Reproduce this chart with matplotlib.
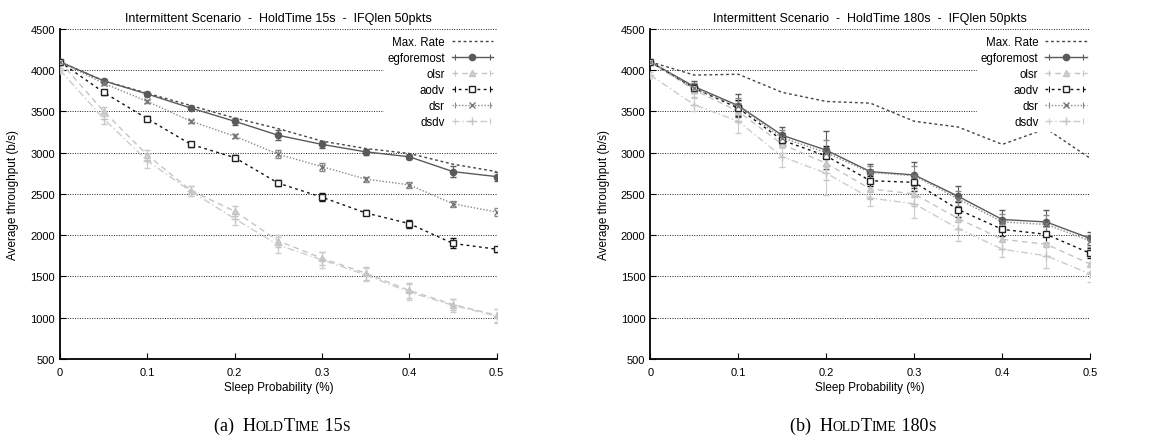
import matplotlib
matplotlib.use("Agg")
import matplotlib.pyplot as plt
from matplotlib.lines import Line2D
from matplotlib.legend_handler import HandlerLine2D, HandlerTuple

plt.rcParams['font.family'] = 'Liberation Sans'

sleep_prob = [0, 0.05, 0.1, 0.15, 0.2, 0.25, 0.3, 0.35, 0.4, 0.45, 0.5]
series_names = ["Max. Rate", "egforemost", "olsr", "aodv", "dsr", "dsdv"]

# HoldTime 15s
max_rate_15 = [4100, 3870, 3720, 3570, 3420, 3290, 3140, 3050, 2990, 2860, 2770]
egforemost_15 = [4100, 3870, 3710, 3540, 3380, 3210, 3100, 3010, 2950, 2770, 2710]
olsr_15 = [4100, 3500, 2970, 2540, 2290, 1930, 1720, 1540, 1330, 1160, 1030]
aodv_15 = [4100, 3730, 3410, 3100, 2940, 2630, 2460, 2270, 2140, 1900, 1830]
dsr_15 = [4100, 3840, 3620, 3380, 3200, 2980, 2830, 2680, 2610, 2380, 2280]
dsdv_15 = [4000, 3410, 2900, 2530, 2200, 1880, 1700, 1520, 1310, 1150, 1020]
egforemost_15_err = [20, 20, 20, 20, 40, 60, 40, 40, 30, 70, 50]
olsr_15_err = [30, 50, 60, 60, 60, 70, 80, 80, 90, 70, 80]
aodv_15_err = [20, 30, 30, 30, 30, 40, 50, 30, 50, 60, 30]
dsr_15_err = [20, 20, 20, 20, 20, 50, 50, 30, 40, 40, 50]
dsdv_15_err = [30, 60, 80, 60, 80, 100, 100, 80, 100, 80, 80]

# HoldTime 180s
max_rate_180 = [4100, 3940, 3950, 3730, 3620, 3600, 3380, 3310, 3100, 3290, 2930]
egforemost_180 = [4100, 3800, 3570, 3210, 3030, 2770, 2730, 2470, 2190, 2160, 1960]
olsr_180 = [4100, 3760, 3500, 3100, 2870, 2560, 2500, 2200, 1950, 1890, 1650]
aodv_180 = [4100, 3780, 3540, 3150, 2960, 2660, 2640, 2310, 2070, 2010, 1780]
dsr_180 = [4100, 3780, 3560, 3180, 3000, 2760, 2720, 2440, 2160, 2130, 1930]
dsdv_180 = [3940, 3580, 3380, 2950, 2750, 2450, 2380, 2080, 1830, 1750, 1530]
egforemost_180_err = [20, 70, 140, 100, 230, 90, 160, 120, 120, 150, 80]
olsr_180_err = [30, 80, 130, 110, 200, 120, 150, 130, 120, 140, 100]
aodv_180_err = [20, 50, 100, 80, 120, 60, 100, 90, 80, 100, 60]
dsr_180_err = [20, 60, 100, 90, 150, 80, 120, 100, 100, 120, 70]
dsdv_180_err = [40, 80, 140, 120, 260, 100, 170, 150, 100, 150, 100]

y_ticks = [500, 1000, 1500, 2000, 2500, 3000, 3500, 4000, 4500]
x_ticks = [0, 0.1, 0.2, 0.3, 0.4, 0.5]
x_tick_labels = ["0", "0.1", "0.2", "0.3", "0.4", "0.5"]

styles = {
    "egforemost": dict(color="#5a5a5a", ls="-", marker="o", ms=4.5, mfc="#5a5a5a", mec="#5a5a5a"),
    "olsr": dict(color="#c4c4c4", ls=(0, (4, 3)), marker="^", ms=4.5, mfc="#d0d0d0", mec="#c4c4c4"),
    "aodv": dict(color="#111111", ls=(0, (2, 2.5)), marker="s", ms=5, mfc="white", mec="#222222"),
    "dsr": dict(color="#8a8a8a", ls=(0, (1, 1.3)), marker="x", ms=5, mfc="none", mec="#777777"),
    "dsdv": dict(color="#cccccc", ls=(0, (5, 2, 1, 2)), marker="+", ms=6, mfc="none", mec="#c4c4c4"),
}


def paint_plot(ax, title, max_rate, data, errs):
    ax.plot(sleep_prob, max_rate, color="#444444", ls=(0, (2, 2)), lw=1.0, zorder=3)
    handles = [Line2D([], [], color="#444444", ls=(0, (2, 2)), lw=1.0)]
    hmap = {}
    for name in series_names[1:]:
        st = styles[name]
        ax.errorbar(sleep_prob, data[name], yerr=errs[name], color=st["color"],
                    ls=st["ls"], lw=1.0, marker=st["marker"], ms=st["ms"],
                    mfc=st["mfc"], mec=st["mec"], mew=1.0, elinewidth=0.8,
                    ecolor=st["color"], capsize=2.5, zorder=3)
        # legend sample drawn the gnuplot way: |---o---|
        line = Line2D([], [], color=st["color"], ls=st["ls"], lw=1.0, marker=st["marker"],
                      ms=st["ms"], mfc=st["mfc"], mec=st["mec"], mew=1.0)
        caps = Line2D([], [], color=st["color"], ls="none", marker="|", ms=5, mew=0.8)
        hmap[caps] = HandlerLine2D(numpoints=2)
        handles.append((line, caps))
    ax.set_xlim(0, 0.5)
    ax.set_ylim(500, 4500)
    ax.set_yticks(y_ticks)
    ax.set_xticks(x_ticks)
    ax.set_xticklabels(x_tick_labels)
    ax.tick_params(direction="in", labelsize=8, length=4, width=0.8)
    ax.tick_params(axis="x", pad=6)
    ax.yaxis.grid(True, color="#222222", ls=(0, (1, 1.5)), lw=0.7)
    ax.set_axisbelow(True)
    for side in ["top", "right"]:
        ax.spines[side].set_visible(False)
    for side in ["left", "bottom"]:
        ax.spines[side].set_linewidth(1.3)
    ax.set_title(title, fontsize=9, pad=6)
    ax.set_xlabel("Sleep Probability (%)", fontsize=8.5, labelpad=3)
    ax.set_ylabel("Average throughput (b/s)", fontsize=8.5, labelpad=8)
    hmap[tuple] = HandlerTuple(ndivide=1, pad=0)
    leg = ax.legend(handles, series_names, handler_map=hmap, loc="upper right",
                    bbox_to_anchor=(1.0, 0.99), fontsize=8.3,
                    markerfirst=False, frameon=True, handlelength=3.6,
                    labelspacing=0.35, borderpad=0.3, handletextpad=0.6,
                    borderaxespad=0.0)
    leg.get_frame().set_facecolor("white")
    leg.get_frame().set_edgecolor("white")
    leg.get_frame().set_alpha(1.0)


def small_caps_caption(x, y, pieces):
    # pieces: list of (text, size); drawn side by side, centred on x
    renderer = fig.canvas.get_renderer()
    texts = []
    total = 0.0
    for s, size in pieces:
        t = fig.text(0, y, s, fontsize=size, family="Liberation Serif",
                     ha="left", va="baseline")
        w = t.get_window_extent(renderer).width
        texts.append((t, w))
        total += w
    start = x * fig.bbox.width - total / 2.0
    for t, w in texts:
        t.set_x(start / fig.bbox.width)
        start += w


fig = plt.figure(figsize=(11.55, 4.39), dpi=100)
ax1 = fig.add_axes([0.052, 0.18, 0.378, 0.752])
ax2 = fig.add_axes([0.563, 0.18, 0.381, 0.752])

paint_plot(ax1, "Intermittent Scenario  -  HoldTime 15s  -  IFQlen 50pkts", max_rate_15,
           {"egforemost": egforemost_15, "olsr": olsr_15, "aodv": aodv_15,
            "dsr": dsr_15, "dsdv": dsdv_15},
           {"egforemost": egforemost_15_err, "olsr": olsr_15_err, "aodv": aodv_15_err,
            "dsr": dsr_15_err, "dsdv": dsdv_15_err})
paint_plot(ax2, "Intermittent Scenario  -  HoldTime 180s  -  IFQlen 50pkts", max_rate_180,
           {"egforemost": egforemost_180, "olsr": olsr_180, "aodv": aodv_180,
            "dsr": dsr_180, "dsdv": dsdv_180},
           {"egforemost": egforemost_180_err, "olsr": olsr_180_err, "aodv": aodv_180_err,
            "dsr": dsr_180_err, "dsdv": dsdv_180_err})

big, small = 13, 9.8
small_caps_caption(0.244, 0.018, [("(a)  H", big), ("OLD", small), ("T", big),
                                  ("IME", small), (" 15", big), ("S", small)])
small_caps_caption(0.747, 0.018, [("(b)  H", big), ("OLD", small), ("T", big),
                                  ("IME", small), (" 180", big), ("S", small)])

fig.savefig("out.png", dpi=100)
